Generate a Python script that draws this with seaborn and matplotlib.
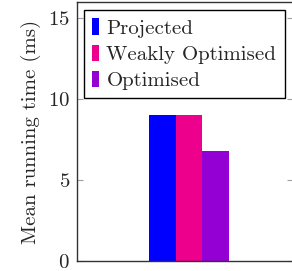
import seaborn as sns
import pandas as pd
import matplotlib
matplotlib.use('Agg')
from matplotlib import pyplot as plt

series = ['Projected', 'Weakly Optimised', 'Optimised']
times = [9.0, 9.0, 6.8]
colors = ['#0000FF', '#EC008C', '#9400D3']
yticks = [0, 5, 10, 15]

df = pd.DataFrame({'group': ['run'] * 3, 'series': series, 'time': times})

sns.set_style('white')
plt.rcParams['font.family'] = ['cmr10', 'DejaVu Serif']
plt.rcParams['mathtext.fontset'] = 'cm'
plt.rcParams['axes.formatter.use_mathtext'] = True

fs = 15
fig = plt.figure(figsize=(2.92, 2.71), dpi=100)
ax = fig.add_axes([77 / 292, 10 / 271, 216 / 292, 259 / 271])

sns.barplot(data=df, x='group', y='time', hue='series', palette=colors,
            width=0.8, saturation=1, linewidth=0, edgecolor='none',
            ax=ax, legend=True)

ax.set_xlim(-1.12, 1.04)
ax.set_ylim(0, 16)
ax.set_yticks(yticks)
ax.set_xticks([])
ax.set_xlabel('')
ax.set_ylabel('Mean running time (ms)', fontsize=fs, labelpad=5)
ax.tick_params(axis='y', direction='in', length=4, color='#a0a0a0',
               left=True, right=True, labelsize=fs, pad=5)
for s in ax.spines.values():
    s.set_visible(True)
    s.set_color('#333333')
    s.set_linewidth(1.0)
# right border falls just outside the picture
ax.spines['right'].set_visible(False)

leg = ax.legend(loc='upper left', bbox_to_anchor=(7 / 216, 1 - 8 / 259),
                borderaxespad=0, fontsize=fs, handlelength=0.34,
                handleheight=0.82, handletextpad=0.34, borderpad=0.4,
                labelspacing=0.33, fancybox=False, frameon=True)
leg.get_frame().set_edgecolor('black')
leg.get_frame().set_linewidth(1.0)
leg.get_frame().set_alpha(1)

plt.savefig('out.png', dpi=100)
